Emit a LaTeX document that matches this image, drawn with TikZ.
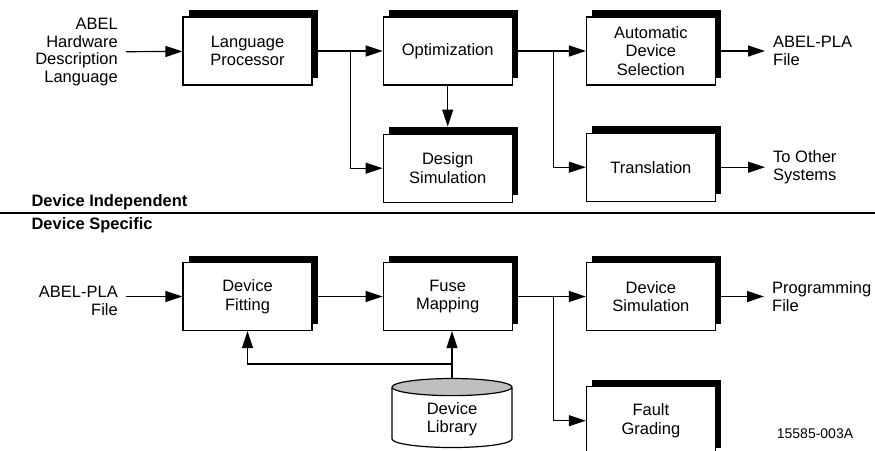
\documentclass[tikz,border=0pt]{standalone}
\usepackage{fontspec}
\setmainfont{Liberation Sans}
\usetikzlibrary{positioning,arrows.meta,shadows,shapes.geometric}
\newcommand{\lbl}{\fontsize{16.5}{18.5}\selectfont}
\tikzset{node distance=70pt, auto}
\tikzset{
  stage/.style={draw, line width=1.2pt, fill=white, minimum width=129pt,
    minimum height=68pt, align=center, font=\lbl,
    drop shadow={shadow xshift=6pt, shadow yshift=7pt, fill=black, opacity=1}},
  io/.style={font=\lbl, inner xsep=8pt},
  arr/.style={-{Triangle[length=17pt,width=11pt]}, line width=1.2pt},
}
\begin{document}
\begin{tikzpicture}[x=1pt, y=-1pt]
		\useasboundingbox (0,0) rectangle (875,450);
		% device independent part
		\node[stage](lp) at (247.5,51){Language\\Processor};
		\node[stage](opt)[right=of lp]{Optimization};
		\node[stage](ads)[right=73pt of opt]{Automatic\\Device\\Selection};
		\node[stage](dsim)[below=48pt of opt]{Design\\Simulation};
		\node[stage](trans)[below=47pt of ads]{Translation};
		\node[io, align=right, anchor=east, font=\fontsize{16.5}{17.8}\selectfont](hdl) at (126,52){ABEL\\Hardware\\Description\\Language};
		\node[io, align=left](pla)[right=49pt of ads]{ABEL-PLA\\File};
		\node[io, align=left](other)[right=49pt of trans]{To Other\\Systems};
		\coordinate[right=38pt of lp.east](j1);
		\coordinate[right=41pt of opt.east](j2);
		\draw[arr](hdl) -- (lp);
		\draw[arr](lp) -- (opt);
		\draw[arr](j1) |- (dsim);
		\draw[arr, shorten >=7pt](opt) -- (dsim);
		\draw[arr](opt) -- (ads);
		\draw[arr](j2) |- (trans);
		\draw[arr](ads) -- (pla);
		\draw[arr](trans) -- (other);
		% divider
		\node[font=\lbl\bfseries, anchor=west](indep) at (28,202){Device Independent};
		\node[font=\lbl\bfseries, anchor=west](spec) at (28,225){Device Specific};
		\draw[line width=1.6pt](0,213) -- (875,213);
		% device specific part
		\node[stage](df) at (247.5,296.5){Device\\Fitting};
		\node[stage](fm)[right=of df]{Fuse\\Mapping};
		\node[stage](dev)[right=73pt of fm]{Device\\Simulation};
		\node[stage](fg)[below=55pt of dev]{Fault\\Grading};
		\node[io, align=right, anchor=east](plain) at (126,301){ABEL-PLA\\File};
		\node[io, align=left](prog)[right=48pt of dev]{Programming\\File};
		\node[draw, line width=1.2pt, cylinder, shape border rotate=90, aspect=0.3,
			minimum width=120pt, minimum height=69pt, cylinder uses custom fill,
			cylinder end fill=black!25, cylinder body fill=white, align=center,
			font=\lbl](lib) at (452,419){Device\\Library};
		\coordinate[above=14pt of lib.north](j4);
		\coordinate[right=41pt of fm.east](j3);
		\draw[arr](plain.east |- df) -- (df);
		\draw[arr](df) -- (fm);
		\draw[arr](fm) -- (dev);
		\draw[arr](j3) |- (fg);
		\draw[arr](dev) -- (prog);
		\draw[arr](lib.north) -- (lib.north |- fm.south);
		\draw[arr](j4) -| (df);
		\node[font=\fontsize{14}{16}\selectfont](fig) at (815,434){15585-003A};
	\end{tikzpicture}
\end{document}
